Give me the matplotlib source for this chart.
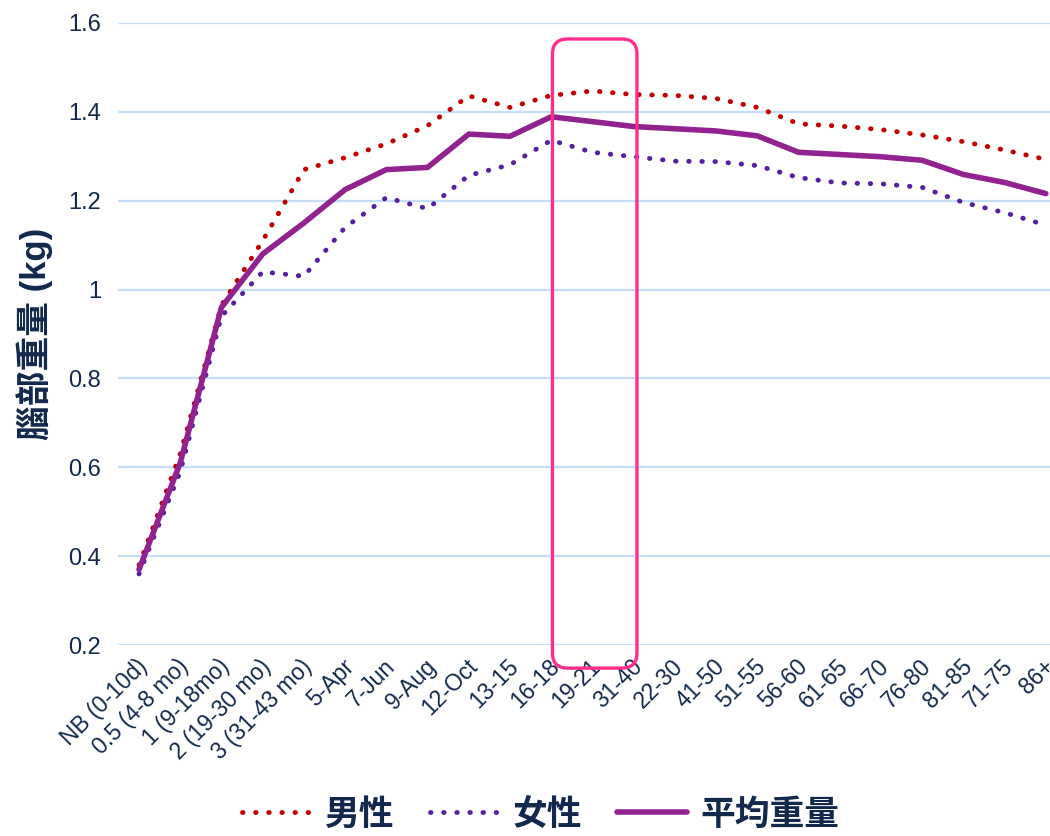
import numpy as np
import matplotlib.pyplot as plt
import matplotlib.transforms as mtrans
from matplotlib.patches import FancyBboxPatch

plt.rcParams['font.family'] = ['Liberation Sans', 'Noto Sans CJK TC', 'DejaVu Sans']

ages = ['NB (0-10d)', '0.5 (4-8 mo)', '1 (9-18mo)', '2 (19-30 mo)', '3 (31-43 mo)',
        '5-Apr', '7-Jun', '9-Aug', '12-Oct', '13-15', '16-18', '19-21', '31-40',
        '22-30', '41-50', '51-55', '56-60', '61-65', '66-70', '76-80', '81-85',
        '71-75', '86+']

male = [0.38, 0.63, 0.965, 1.11, 1.27, 1.297, 1.328, 1.369, 1.436, 1.41, 1.437,
        1.447, 1.439, 1.437, 1.43, 1.41, 1.373, 1.368, 1.36, 1.348, 1.333, 1.314, 1.293]
female = [0.36, 0.59, 0.94, 1.04, 1.03, 1.14, 1.207, 1.182, 1.257, 1.281, 1.336,
          1.309, 1.299, 1.289, 1.288, 1.279, 1.252, 1.24, 1.238, 1.23, 1.196, 1.173, 1.145]
average = [0.37, 0.61, 0.96, 1.08, 1.15, 1.225, 1.27, 1.275, 1.35, 1.345, 1.389,
           1.378, 1.367, 1.362, 1.357, 1.346, 1.309, 1.304, 1.299, 1.291, 1.259, 1.241, 1.216]

labels = ['男性', '女性', '平均重量']
yticks = [0.2, 0.4, 0.6, 0.8, 1.0, 1.2, 1.4, 1.6]
highlight = ('16-18', '31-40')

navy = '#12284C'
x = np.arange(len(ages))

fig = plt.figure(figsize=(10.5, 8.36), dpi=100)
ax = fig.add_axes([118 / 1050, 191 / 836, 932 / 1050, 622 / 836])

dots = (0, (0.1, 2.6))
ax.plot(x, male, color='#C00000', lw=3.5, linestyle=dots, dash_capstyle='round', label=labels[0], zorder=3)
ax.plot(x, female, color='#5521A0', lw=3.5, linestyle=dots, dash_capstyle='round', label=labels[1], zorder=3)
ax.plot(x, average, color='#922290', lw=4, solid_capstyle='round', label=labels[2], zorder=4)

ax.set_xlim(-0.51, 22.1)
ax.set_ylim(0.2, 1.6)
ax.set_yticks(yticks)
ax.set_yticklabels(['0.2', '0.4', '0.6', '0.8', '1', '1.2', '1.4', '1.6'])
ax.set_xticks(x)
ax.set_xticklabels(ages, rotation=45, ha='right', va='center', rotation_mode='anchor')
ax.tick_params(axis='y', length=0, pad=12, labelsize=17, labelcolor=navy)
ax.tick_params(axis='x', length=0, pad=13, labelsize=16.5, labelcolor=navy)
shift = mtrans.ScaledTranslation(5 / 100, 0, fig.dpi_scale_trans)
for lab in ax.get_xticklabels():
    lab.set_transform(lab.get_transform() + shift)
ax.grid(axis='y', color='#C6DDF7', lw=1.6)
ax.set_axisbelow(True)
for s in ax.spines.values():
    s.set_visible(False)

ax.set_ylabel('腦部重量 (kg)', fontsize=25, fontweight='bold', color=navy)
ax.yaxis.set_label_coords(-0.07, 0.5)

# highlight box
i0, i1 = ages.index(highlight[0]), ages.index(highlight[1])
box = FancyBboxPatch((i0 + 0.03, 0.148), i1 - i0 + 0.05, 1.416,
                     boxstyle='round,pad=0,rounding_size=0.37', mutation_aspect=0.091,
                     fill=False, ec='#FF2E8C', lw=2.4, clip_on=False, zorder=5)
ax.add_patch(box)

leg = fig.legend(loc='lower center', bbox_to_anchor=(0.515, -0.032), ncol=3, frameon=False,
                 prop={'size': 25, 'weight': 'bold'}, handlelength=2.0, columnspacing=1.0,
                 handletextpad=0.4)
for t in leg.get_texts():
    t.set_color(navy)

fig.savefig('out.png', dpi=100)
